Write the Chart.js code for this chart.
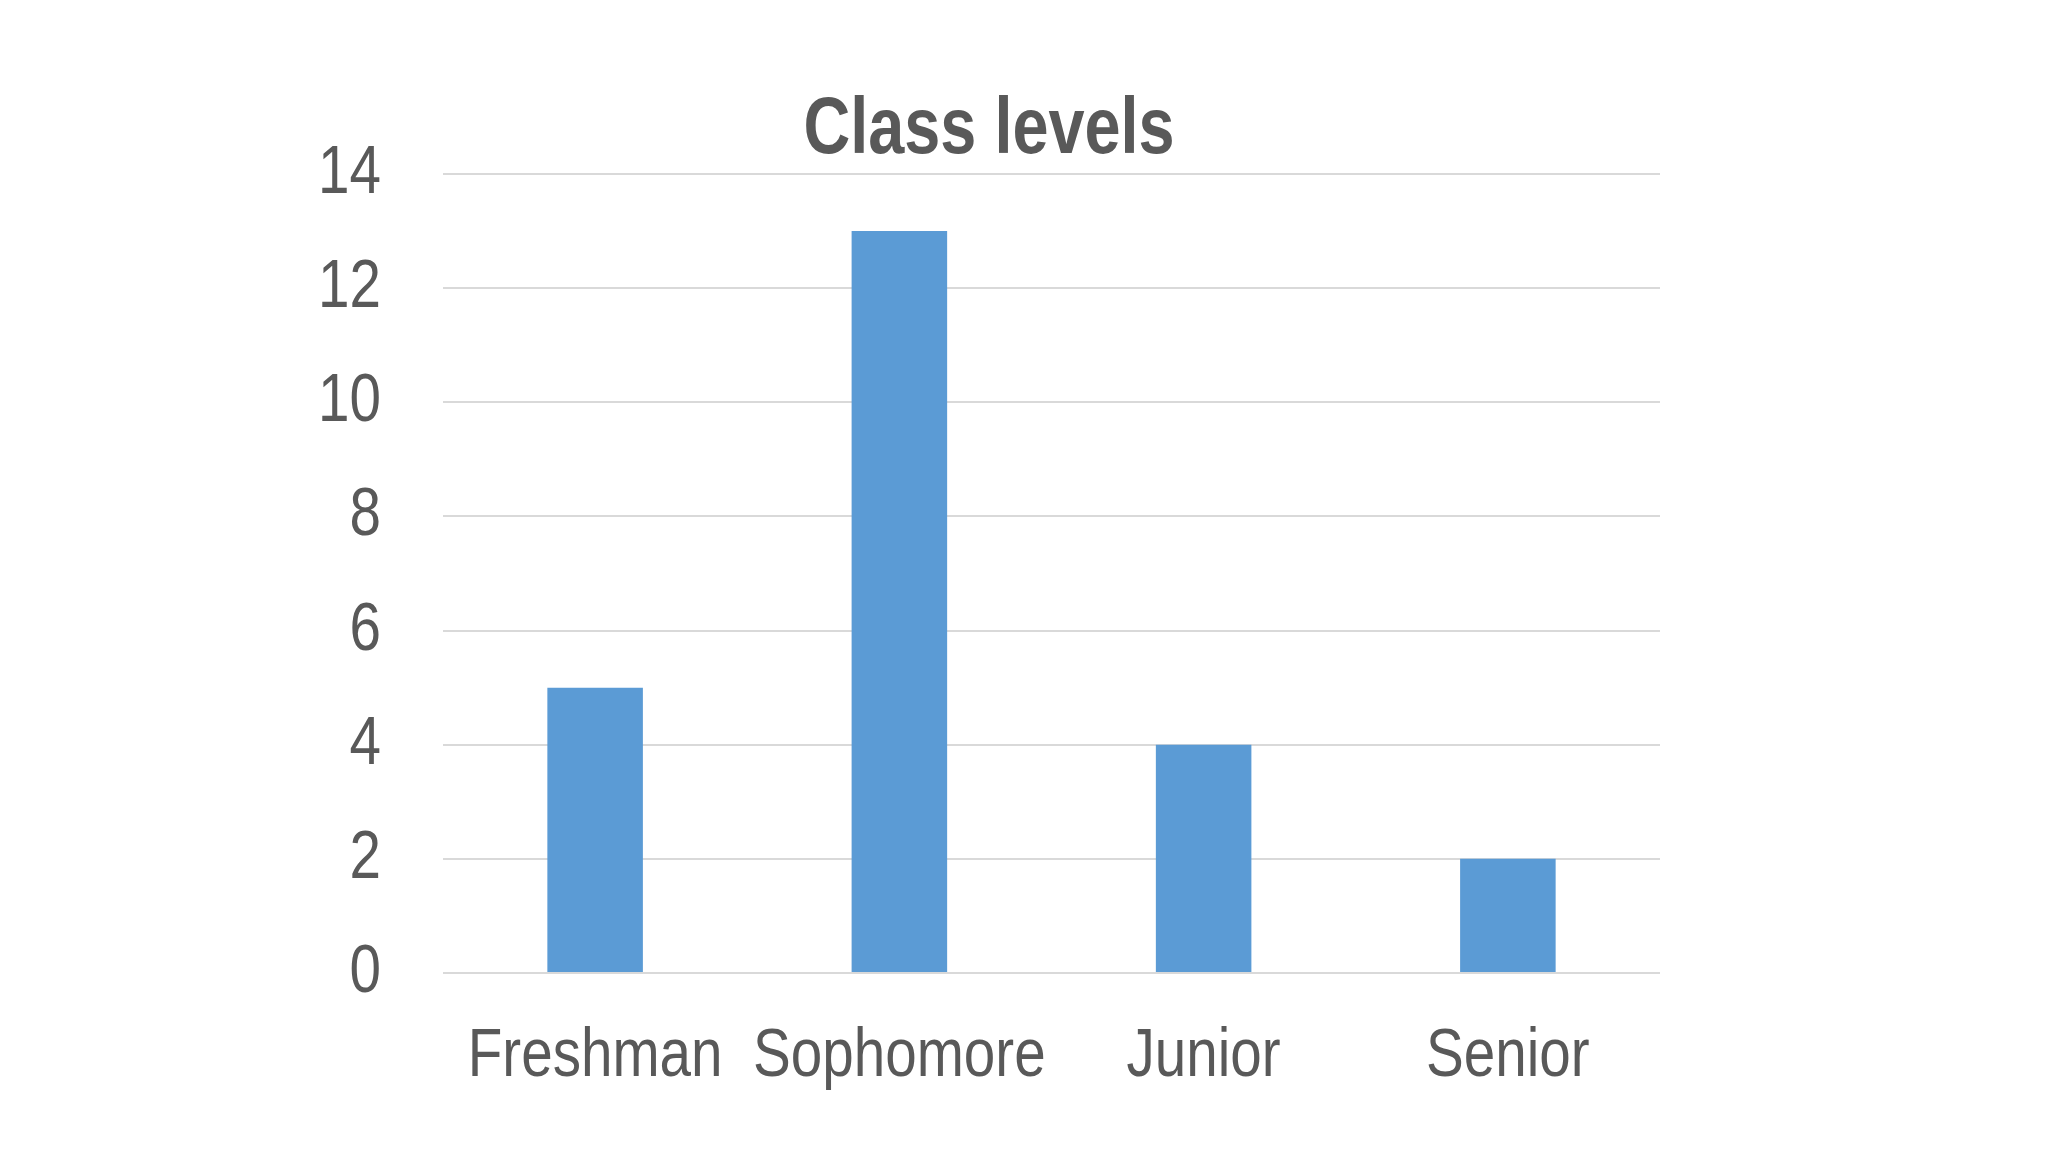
<!DOCTYPE html>
<html>
<head>
<meta charset="utf-8">
<script src="https://cdn.jsdelivr.net/npm/chart.js@4"></script>
<style>
  html, body { margin: 0; padding: 0; background: #ffffff; }
  #c { display: block; }
</style>
</head>
<body>
<canvas id="c" width="2048" height="1152"></canvas>
<script>
const categories = ["Freshman", "Sophomore", "Junior", "Senior"];
const counts = [5, 13, 4, 2];
const yTicks = [0, 2, 4, 6, 8, 10, 12, 14];
const chartTitle = "Class levels";

const FONT = '"Liberation Sans", Arial, sans-serif';
const TEXT = '#595959';
const NARROW = 0.82; // horizontal condensing of text (Arial Narrow look)

const condenseText = {
  id: 'condenseText',
  beforeInit(chart) {
    const ctx = chart.ctx;
    const orig = ctx.fillText;
    ctx.fillText = function (text, x, y, maxWidth) {
      const w = this.measureText(text).width * NARROW;
      const mw = (maxWidth === undefined || maxWidth === null) ? w : Math.min(maxWidth, w);
      return orig.call(this, text, x, y, mw);
    };
  }
};

new Chart(document.getElementById('c'), {
  type: 'bar',
  data: {
    labels: categories,
    datasets: [{
      data: counts,
      backgroundColor: '#5b9bd5',
      borderWidth: 0,
      categoryPercentage: 1.0,
      barPercentage: 0.314
    }]
  },
  plugins: [condenseText],
  options: {
    responsive: false,
    animation: false,
    devicePixelRatio: 1,
    layout: { padding: { left: 318, right: 388, top: 0, bottom: 0 } },
    plugins: {
      legend: { display: false },
      tooltip: { enabled: false },
      title: {
        display: true,
        text: chartTitle,
        color: TEXT,
        font: { family: FONT, size: 79, weight: 'bold', lineHeight: 1 },
        padding: { top: 92, bottom: 3 }
      }
    },
    scales: {
      x: {
        grid: { display: false, drawTicks: false },
        border: { display: false },
        ticks: {
          color: TEXT,
          font: { family: FONT, size: 69, lineHeight: 1 },
          padding: 49,
          maxRotation: 0,
          autoSkip: false
        },
        afterFit: (s) => { s.height = 179; }
      },
      y: {
        min: yTicks[0],
        max: yTicks[yTicks.length - 1],
        afterBuildTicks: (s) => { s.ticks = yTicks.map(v => ({ value: v })); },
        grid: { color: '#d9d9d9', lineWidth: 2, drawTicks: false },
        border: { display: false },
        ticks: {
          color: TEXT,
          font: { family: FONT, size: 69, lineHeight: 1 },
          padding: 62
        },
        afterFit: (s) => { s.width = 125; }
      }
    }
  }
});
</script>
</body>
</html>
